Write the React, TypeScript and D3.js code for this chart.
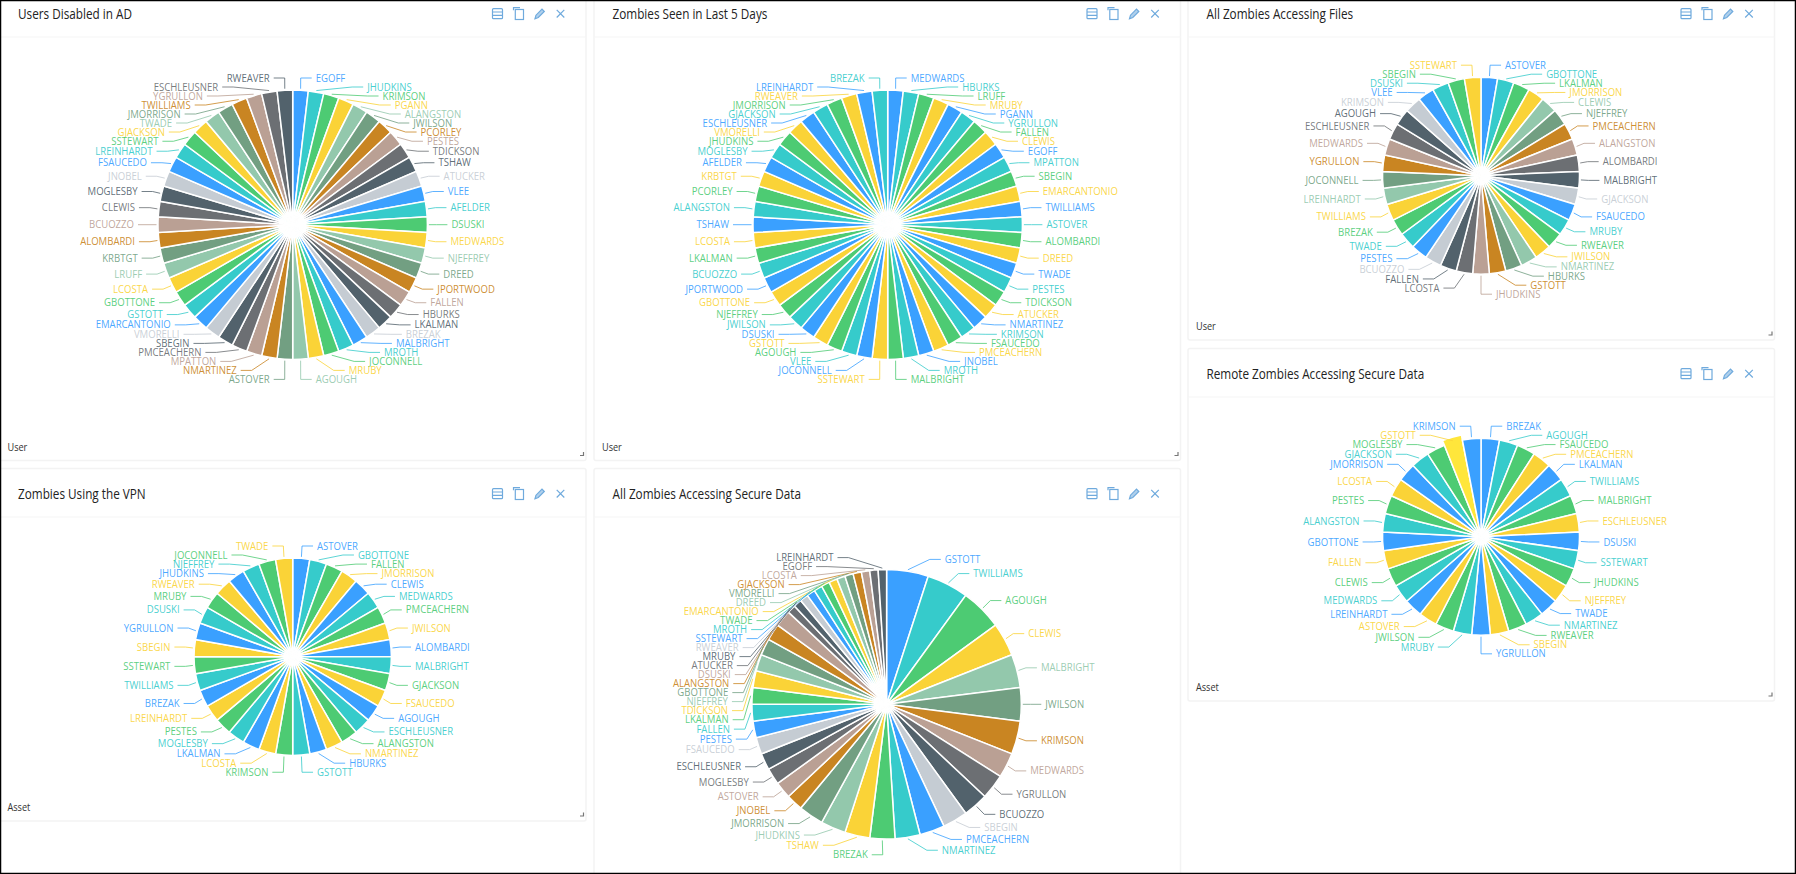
import React from "react";
import * as d3 from "d3";

const palette11 = ["#3AA0FF","#36CBCB","#4DCB73","#FAD337","#93C8AC","#729F82","#C98522","#BAA094","#6C6F73","#52626C","#C5CCD3"];
const palette4 = ["#3AA0FF","#36CBCB","#4DCB73","#FAD337"];

const disabledNames = ["EGOFF","JHUDKINS","KRIMSON","PGANN","ALANGSTON","JWILSON","PCORLEY","PESTES","TDICKSON","TSHAW","ATUCKER","VLEE","AFELDER","DSUSKI","MEDWARDS","NJEFFREY","DREED","JPORTWOOD","FALLEN","HBURKS","LKALMAN","BREZAK","MALBRIGHT","MROTH","JOCONNELL","MRUBY","AGOUGH","ASTOVER","NMARTINEZ","MPATTON","PMCEACHERN","SBEGIN","VMORELLI","EMARCANTONIO","GSTOTT","GBOTTONE","LCOSTA","LRUFF","KRBTGT","ALOMBARDI","BCUOZZO","CLEWIS","MOGLESBY","JNOBEL","FSAUCEDO","LREINHARDT","SSTEWART","GJACKSON","TWADE","JMORRISON","TWILLIAMS","YGRULLON","ESCHLEUSNER","RWEAVER"];
const disabledValues = [1,1,1,1,1,1,1,1,1,1,1,1,1,1,1,1,1,1,1,1,1,1,1,1,1,1,1,1,1,1,1,1,1,1,1,1,1,1,1,1,1,1,1,1,1,1,1,1,1,1,1,1,1,1];

const seenNames = ["MEDWARDS","HBURKS","LRUFF","MRUBY","PGANN","YGRULLON","FALLEN","CLEWIS","EGOFF","MPATTON","SBEGIN","EMARCANTONIO","TWILLIAMS","ASTOVER","ALOMBARDI","DREED","TWADE","PESTES","TDICKSON","ATUCKER","NMARTINEZ","KRIMSON","FSAUCEDO","PMCEACHERN","JNOBEL","MROTH","MALBRIGHT","SSTEWART","JOCONNELL","VLEE","AGOUGH","GSTOTT","DSUSKI","JWILSON","NJEFFREY","GBOTTONE","JPORTWOOD","BCUOZZO","LKALMAN","LCOSTA","TSHAW","ALANGSTON","PCORLEY","KRBTGT","AFELDER","MOGLESBY","JHUDKINS","VMORELLI","ESCHLEUSNER","GJACKSON","JMORRISON","RWEAVER","LREINHARDT","BREZAK"];
const seenValues = [1,1,1,1,1,1,1,1,1,1,1,1,1,1,1,1,1,1,1,1,1,1,1,1,1,1,1,1,1,1,1,1,1,1,1,1,1,1,1,1,1,1,1,1,1,1,1,1,1,1,1,1,1,1];

const filesNames = ["ASTOVER","GBOTTONE","LKALMAN","JMORRISON","CLEWIS","NJEFFREY","PMCEACHERN","ALANGSTON","ALOMBARDI","MALBRIGHT","GJACKSON","FSAUCEDO","MRUBY","RWEAVER","JWILSON","NMARTINEZ","HBURKS","GSTOTT","JHUDKINS","LCOSTA","FALLEN","BCUOZZO","PESTES","TWADE","BREZAK","TWILLIAMS","LREINHARDT","JOCONNELL","YGRULLON","MEDWARDS","ESCHLEUSNER","AGOUGH","KRIMSON","VLEE","DSUSKI","SBEGIN","SSTEWART"];
const filesValues = [1,1,1,1,1,1,1,1,1,1,1,1,1,1,1,1,1,1,1,1,1,1,1,1,1,1,1,1,1,1,1,1,1,1,1,1,1];

const remoteNames = ["BREZAK","AGOUGH","FSAUCEDO","PMCEACHERN","LKALMAN","TWILLIAMS","MALBRIGHT","ESCHLEUSNER","DSUSKI","SSTEWART","JHUDKINS","NJEFFREY","TWADE","NMARTINEZ","RWEAVER","SBEGIN","YGRULLON","MRUBY","JWILSON","ASTOVER","LREINHARDT","MEDWARDS","CLEWIS","FALLEN","GBOTTONE","ALANGSTON","PESTES","LCOSTA","JMORRISON","GJACKSON","MOGLESBY","GSTOTT","KRIMSON"];
const remoteValues = [1,1,1,1,1,1,1,1,1,1,1,1,1,1,1,1,1,1,1,1,1,1,1,1,1,1,1,1,1,1,1,1,1];

const vpnNames = ["ASTOVER","GBOTTONE","FALLEN","JMORRISON","CLEWIS","MEDWARDS","PMCEACHERN","JWILSON","ALOMBARDI","MALBRIGHT","GJACKSON","FSAUCEDO","AGOUGH","ESCHLEUSNER","ALANGSTON","NMARTINEZ","HBURKS","GSTOTT","KRIMSON","LCOSTA","LKALMAN","MOGLESBY","PESTES","LREINHARDT","BREZAK","TWILLIAMS","SSTEWART","SBEGIN","YGRULLON","DSUSKI","MRUBY","RWEAVER","JHUDKINS","NJEFFREY","JOCONNELL","TWADE"];
const vpnValues = [1,1,1,1,1,1,1,1,1,1,1,1,1,1,1,1,1,1,1,1,1,1,1,1,1,1,1,1,1,1,1,1,1,1,1,1];

const secureNames = ["GSTOTT","TWILLIAMS","AGOUGH","CLEWIS","MALBRIGHT","JWILSON","KRIMSON","MEDWARDS","YGRULLON","BCUOZZO","SBEGIN","PMCEACHERN","NMARTINEZ","BREZAK","TSHAW","JHUDKINS","JMORRISON","JNOBEL","ASTOVER","MOGLESBY","ESCHLEUSNER","FSAUCEDO","PESTES","FALLEN","LKALMAN","TDICKSON","NJEFFREY","GBOTTONE","ALANGSTON","DSUSKI","ATUCKER","MRUBY","RWEAVER","SSTEWART","MROTH","TWADE","EMARCANTONIO","DREED","VMORELLI","GJACKSON","LCOSTA","EGOFF","LREINHARDT"];
const secureValues = [5,5,5,4,4,4,4,3,3,3,3,3,3,3,3,3,3,2,2,2,2,2,2,2,2,2,2,2,2,2,1,1,1,1,1,1,1,1,1,1,1,1,1];

const GAP = 9;
const LEN2 = 11;
const SOFTEN_LIMIT = 17;

type Placed = { name: string; color: string; theta: number; dir: number; y: number; x: number };

function spreadSide(targets: number[], minPos: number, maxPos: number): number[] {
  // merge overlapping labels into boxes centred on their targets, inside the bounds
  const boxes = targets.map((t) => ({ size: GAP, targets: [t], pos: 0 }));
  let overlapping = true;
  while (overlapping) {
    boxes.forEach((b) => {
      const mean = d3.mean(b.targets) as number;
      const extent = b.size - GAP;
      b.pos = Math.min(maxPos - extent, Math.max(minPos, mean - extent / 2));
    });
    overlapping = false;
    for (let i = boxes.length - 1; i > 0; i--) {
      const p = boxes[i - 1], c = boxes[i];
      if (p.pos + p.size > c.pos + 1e-6) {
        p.size += c.size;
        p.targets = p.targets.concat(c.targets);
        boxes.splice(i, 1);
        overlapping = true;
      }
    }
  }
  let out: number[] = [];
  boxes.forEach((b) => b.targets.forEach((_, k) => out.push(b.pos + k * GAP)));
  // soften the change of spacing where a tight run meets free labels
  for (let pass = 0; pass < 4; pass++) {
    out = out.map((y, i) => {
      if (i === 0 || i === out.length - 1) return y;
      const up = y - out[i - 1];
      const down = out[i + 1] - y;
      if (up > SOFTEN_LIMIT || down > SOFTEN_LIMIT) return y;
      return y + 0.25 * (down - up);
    });
  }
  return out;
}

function layoutLabels(names: string[], arcs: d3.PieArcDatum<number>[], colors: string[], r: number): Placed[] {
  const items = arcs.map((a, i) => {
    const theta = (a.startAngle + a.endAngle) / 2;
    return {
      name: names[i],
      color: colors[i % colors.length],
      theta,
      span: ((a.endAngle - a.startAngle) * 180) / Math.PI,
      dir: Math.sin(theta) > -1e-6 ? 1 : -1,
      target: -(r + 12) * Math.cos(theta),
    };
  });
  const out: Placed[] = [];
  [1, -1].forEach((dir) => {
    const side = items.filter((d) => d.dir === dir).sort((a, b) => a.target - b.target);
    const ys = spreadSide(side.map((d) => d.target), -(r + 12), r + 20);
    side.forEach((d, i) => {
      const R = r + 20;
      const fromVertical = Math.abs(Math.sin(d.theta));
      const keepNatural = fromVertical < Math.sin((6 * Math.PI) / 180) && d.span > 5;
      const dx = keepNatural ? R * fromVertical + 10 : Math.sqrt(Math.max(0, R * R - ys[i] * ys[i]));
      out.push({ name: d.name, color: d.color, theta: d.theta, dir, y: ys[i], x: dir * Math.max(dx, LEN2) });
    });
  });
  return out;
}

function Pie({ names, values, colors, cx, cy, r, hover }: { names: string[]; values: number[]; colors: string[]; cx: number; cy: number; r: number; hover?: string }) {
  const arcs = d3.pie<number>().sort(null)(values);
  const arc = d3.arc<d3.PieArcDatum<number>>().innerRadius(0);
  const labels = layoutLabels(names, arcs, colors, r);
  const hoverIndex = hover ? names.indexOf(hover) : -1;
  return (
    <g transform={`translate(${cx},${cy})`}>
      {arcs.map((a, i) => (
        <path
          key={i}
          d={arc({ ...a, outerRadius: i === hoverIndex ? r + 5 : r } as any) as string}
          fill={i === hoverIndex ? "#FFE63B" : colors[i % colors.length]}
          stroke="#fff"
          strokeWidth={1.5}
        />
      ))}
      {labels.map((l) => {
        const sr = r + 1.5;
        const p0: [number, number] = [sr * Math.sin(l.theta), -sr * Math.cos(l.theta)];
        const line = d3.line()([p0, [l.x - l.dir * LEN2, l.y], [l.x, l.y]]) as string;
        return (
          <g key={l.name}>
            <path d={line} fill="none" stroke={l.color} strokeWidth={1} strokeOpacity={0.8} />
            <text
              transform={`translate(${l.x + l.dir * 4},${l.y - 0.7}) scale(0.87,1)`}
              textAnchor={l.dir > 0 ? "start" : "end"}
              dominantBaseline="central"
              fontFamily="'Open Sans'"
              fontSize={11}
              fill={l.color}
              fillOpacity={0.92}
            >
              {l.name}
            </text>
          </g>
        );
      })}
    </g>
  );
}

function Icons({ right, y }: { right: number; y: number }) {
  const c = "#6FAADD";
  const x0 = right - 88.5, x1 = right - 67.5, x2 = right - 46.5, x3 = right - 25.5;
  return (
    <g fill="none" stroke={c} strokeWidth={1.2}>
      <g transform={`translate(${x0},${y})`}>
        <rect x={-5} y={-5} width={10} height={10} rx={1} />
        <path d="M-5,-1.7H5M-5,1.7H5" />
      </g>
      <g transform={`translate(${x1},${y})`}>
        <path d="M-5,-3.5V-6H1.5" />
        <rect x={-3.2} y={-4.2} width={8.2} height={10} />
      </g>
      <g transform={`translate(${x2},${y})`}>
        <path d="M-4.5,5L-3.5,1.5L2.5,-4.5L4.8,-2.2L-1.2,3.8Z" fill={c} fillOpacity={0.55} />
      </g>
      <g transform={`translate(${x3},${y})`}>
        <path d="M-3.8,-3.8L3.8,3.8M3.8,-3.8L-3.8,3.8" />
      </g>
    </g>
  );
}

function Panel({ x0, x1, y0, y1, dividerY, title, footer }: { x0: number; x1: number; y0: number; y1: number; dividerY: number; title: string; footer?: string }) {
  const headY = dividerY - 23.3;
  return (
    <g>
      <rect x={x0} y={y0} width={x1 - x0} height={y1 - y0} rx={2} fill="#fff" stroke="#F3F3F3" strokeWidth={1.5} />
      <line x1={x0} x2={x1} y1={dividerY} y2={dividerY} stroke="#F5F5F5" strokeWidth={1} />
      <text transform={`translate(${x0 + 18.5},${headY}) scale(0.84,1)`} dominantBaseline="central" fontFamily="'Open Sans'" fontSize={14} fill="#222">
        {title}
      </text>
      <Icons right={x1} y={headY} />
      {footer ? (
        <text transform={`translate(${x0 + 8},${y1 - 14}) scale(0.87,1)`} dominantBaseline="central" fontFamily="'Open Sans'" fontSize={10.5} fill="#333">
          {footer}
        </text>
      ) : null}
      {footer ? <path d={`M${x1 - 6},${y1 - 5}H${x1 - 2.5}V${y1 - 8.5}`} fill="none" stroke="#777" strokeWidth={1.2} /> : null}
    </g>
  );
}

export default function App() {
  return (
    <div>
      <style>{`body{margin:0}`}</style>
      <svg width={1796} height={874} style={{ display: "block", background: "#fff" }}>
        <Panel x0={-0.5} x1={586} y0={-4} y1={460.5} dividerY={37} title="Users Disabled in AD" footer="User" />
        <Panel x0={594} x1={1180.5} y0={-4} y1={460.5} dividerY={37} title="Zombies Seen in Last 5 Days" footer="User" />
        <Panel x0={1188} x1={1774.5} y0={-4} y1={340} dividerY={37} title="All Zombies Accessing Files" footer="User" />
        <Panel x0={1188} x1={1774.5} y0={348.5} y1={701} dividerY={397} title="Remote Zombies Accessing Secure Data" footer="Asset" />
        <Panel x0={-0.5} x1={586} y0={468.5} y1={821} dividerY={517} title="Zombies Using the VPN" footer="Asset" />
        <Panel x0={594} x1={1180.5} y0={468.5} y1={890} dividerY={517} title="All Zombies Accessing Secure Data" />

        <Pie names={disabledNames} values={disabledValues} colors={palette11} cx={292.7} cy={224.7} r={134.7} />
        <Pie names={seenNames} values={seenValues} colors={palette4} cx={887.7} cy={224.7} r={134.7} />
        <Pie names={filesNames} values={filesValues} colors={palette11} cx={1481} cy={175.7} r={98.5} />
        <Pie names={remoteNames} values={remoteValues} colors={palette4} cx={1481} cy={536.7} r={98.5} hover="GSTOTT" />
        <Pie names={vpnNames} values={vpnValues} colors={palette4} cx={292.7} cy={656.7} r={98.7} />
        <Pie names={secureNames} values={secureValues} colors={palette11} cx={886.6} cy={704.3} r={134.7} />

        <rect x={0.5} y={0.5} width={1795} height={873} fill="none" stroke="#000" strokeWidth={1.5} />
      </svg>
    </div>
  );
}
